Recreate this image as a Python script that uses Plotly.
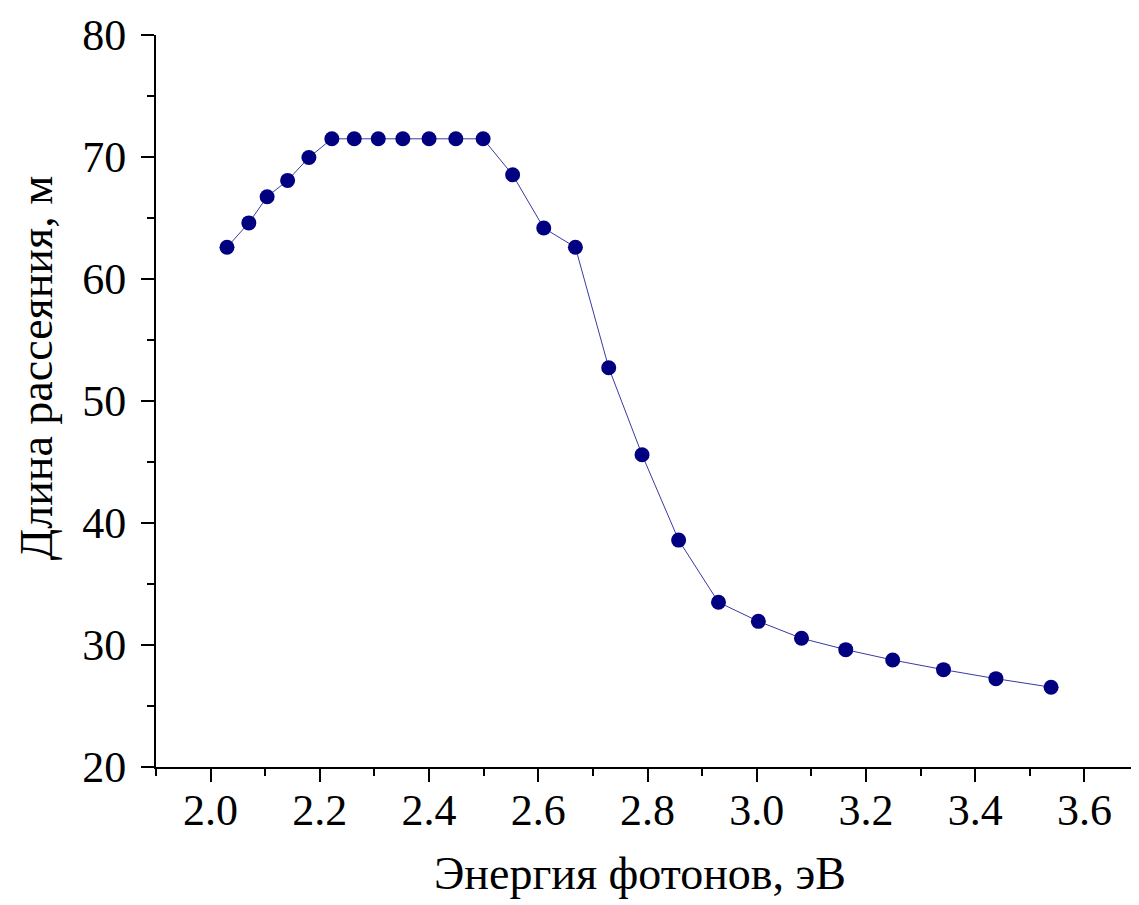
import plotly.graph_objects as go

energy_ev = [2.030, 2.070, 2.1035, 2.141, 2.180, 2.222, 2.263, 2.307, 2.352, 2.400,
             2.449, 2.499, 2.553, 2.610, 2.668, 2.729, 2.790, 2.857, 2.930, 3.003,
             3.082, 3.163, 3.249, 3.342, 3.438, 3.539]
scatter_length_m = [62.6, 64.6, 66.74, 68.08, 69.96, 71.49, 71.49, 71.49, 71.49, 71.49,
                    71.49, 71.49, 68.54, 64.18, 62.6, 52.73, 45.6, 38.6, 33.5, 31.94,
                    30.55, 29.62, 28.77, 27.98, 27.24, 26.54]

x_title = "Энергия фотонов, эВ"
y_title = "Длина рассеяния, м"

FONT = "Liberation Serif"

fig = go.Figure()
fig.add_trace(go.Scatter(
    x=energy_ev, y=scatter_length_m, mode="lines+markers",
    line=dict(color="#3a3aa0", width=1),
    marker=dict(color="#000080", size=15),
    showlegend=False,
))

axis_common = dict(
    showgrid=False, zeroline=False, showline=True, linecolor="black", linewidth=2,
    ticks="outside", ticklen=13, tickwidth=2, tickcolor="black",
    tickfont=dict(family=FONT, size=44, color="black"),
    mirror=False,
)

fig.update_layout(
    width=1131, height=897,
    margin=dict(l=148, r=0, t=27, b=138),
    paper_bgcolor="white", plot_bgcolor="white",
    font=dict(family=FONT, color="black"),
    xaxis=dict(
        range=[1.9, 3.7], tick0=2.0, dtick=0.2, tickformat=".1f",
        minor=dict(ticks="outside", ticklen=7, tickwidth=2, tickcolor="black", dtick=0.1, tick0=1.9, showgrid=False),
        ticklabelstandoff=-10,
        **axis_common,
    ),
    yaxis=dict(
        range=[20, 80], tick0=20, dtick=10,
        minor=dict(ticks="outside", ticklen=7, tickwidth=2, tickcolor="black", dtick=5, tick0=20, showgrid=False),
        ticklabelstandoff=6,
        **axis_common,
    ),
    annotations=[
        dict(text=x_title, xref="paper", yref="paper", x=0.4924, y=-0.146,
             xanchor="center", yanchor="middle", showarrow=False,
             font=dict(family=FONT, size=46, color="black")),
        dict(text=y_title, xref="paper", yref="paper", x=-0.122, y=0.545,
             xanchor="center", yanchor="middle", showarrow=False, textangle=-90,
             font=dict(family=FONT, size=46, color="black")),
    ],
)

fig.write_html("out.html")
